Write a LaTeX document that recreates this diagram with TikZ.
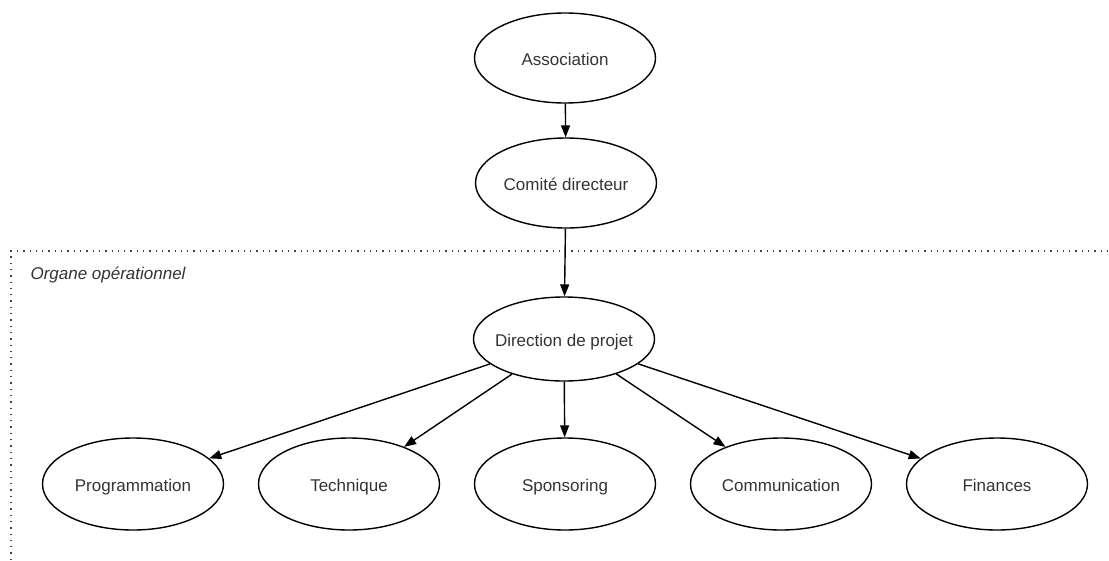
\documentclass[tikz,border=0pt]{standalone}
\usepackage{fontspec}
\setmainfont{Liberation Sans}
\usetikzlibrary{shapes.geometric,arrows.meta}
\tikzset{
  ell/.style={ellipse, draw=black, line width=1.4pt, minimum width=181pt, minimum height=90pt, inner xsep=-10pt, inner ysep=0pt, text height=15pt, text depth=0pt, font=\fontsize{17}{20}\selectfont, text=black!80},
  conn/.style={line width=1.4pt, -{Triangle[length=12pt,width=9pt]}},
  frame/.style={line width=1.3pt, black!75, dash pattern=on 1.3pt off 5pt}
}
\begin{document}
\begin{tikzpicture}[x=1pt,y=-1pt]
\useasboundingbox (0,0) rectangle (1109,560);
\coordinate (fb) at (11,560);
\coordinate (fc) at (11,251);
\coordinate (fr) at (1109,251);
\draw[frame] (fb) -- (fc) -- (fr);
\node[anchor=west, font=\itshape\fontsize{17}{20}\selectfont, text=black!80] (org) at (27,275) {Organe opérationnel};
\node[ell] (assoc) at (565,58) {Association};
\node[ell] (comite) at (566,183) {Comité directeur};
\node[ell, minimum height=84pt] (dir) at (564,339) {Direction de projet};
\node[ell, minimum height=92pt] (prog) at (133,484) {Programmation};
\node[ell, minimum height=92pt] (tech) at (349,484) {Technique};
\node[ell, minimum height=92pt] (spon) at (565,484) {Sponsoring};
\node[ell, minimum height=92pt] (comm) at (781,484) {Communication};
\node[ell, minimum height=92pt] (fin) at (997,484) {Finances};
\draw[conn] (assoc) -- (comite);
\draw[conn] (comite) -- (dir);
\draw[conn] (dir) -- (prog);
\draw[conn] (dir) -- (tech);
\draw[conn] (dir) -- (spon);
\draw[conn] (dir) -- (comm);
\draw[conn] (dir) -- (fin);
\end{tikzpicture}
\end{document}
